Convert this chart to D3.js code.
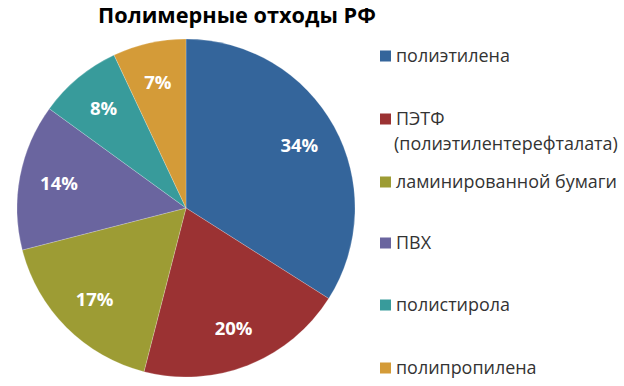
<!DOCTYPE html>
<html><head><meta charset="utf-8">
<script src="https://cdn.jsdelivr.net/npm/d3@7"></script>
<style>body{margin:0;background:#fff;}svg{display:block;}</style>
</head><body>
<script>
const categories = ["полиэтилена", "ПЭТФ (полиэтилентерефталата)", "ламинированной бумаги", "ПВХ", "полистирола", "полипропилена"];
const legendLines = [["полиэтилена"], ["ПЭТФ", "(полиэтилентерефталата)"], ["ламинированной бумаги"], ["ПВХ"], ["полистирола"], ["полипропилена"]];
const values = [34, 20, 17, 14, 8, 7];
const colors = ["#34659b", "#9b3233", "#9d9c34", "#6a659f", "#389b9b", "#d49b38"];
const title = "Полимерные отходы РФ";

const W = 624, H = 386;
const FONT = "'Open Sans', Lato, sans-serif";
const svg = d3.select("body").append("svg").attr("width", W).attr("height", H);
const titleEl = svg.append("text").attr("x", 237).attr("y", 23).attr("text-anchor", "middle")
  .attr("font-family", FONT).attr("font-weight", "bold")
  .attr("font-size", 20).attr("fill", "#000").text(title);
// fit title to reference width
const tw = titleEl.node().getComputedTextLength();
titleEl.attr("font-size", 20 * 278 / tw);

const cx = 186, cy = 208, R = 169;
const pie = d3.pie().sort(null).value(d => d);
const arcs = pie(values);
const arc = d3.arc().innerRadius(0).outerRadius(R);
const labelArc = d3.arc().innerRadius(R * 0.765).outerRadius(R * 0.765);
const g = svg.append("g").attr("transform", `translate(${cx},${cy})`);
g.selectAll("path").data(arcs).join("path")
  .attr("d", arc).attr("fill", (d, i) => colors[i])
  .attr("stroke", "#ffffff").attr("stroke-opacity", 0.35).attr("stroke-width", 0.6);
g.selectAll("text").data(arcs).join("text")
  .attr("transform", d => `translate(${labelArc.centroid(d)})`)
  .attr("text-anchor", "middle").attr("dy", "0.36em")
  .attr("font-family", FONT).attr("font-weight", "bold")
  .attr("font-size", 18.5).attr("fill", "#ffffff")
  .text(d => d.data + "%");

const legendY = [56, 119, 182, 243, 305, 368];
const lg = svg.append("g");
const texts = [];
legendLines.forEach((lines, i) => {
  lg.append("rect").attr("x", 380).attr("y", legendY[i] - 5.5).attr("width", 11).attr("height", 11).attr("fill", colors[i]);
  lines.forEach((t, j) => {
    texts.push(lg.append("text").attr("x", j === 0 ? 396 : 394).attr("y", legendY[i] + j * 25).attr("dy", "0.35em")
      .attr("font-family", FONT).attr("font-size", 15).attr("fill", "#333")
      .text(t));
  });
});
// fit legend font so the longest line matches the reference width
const longW = texts[2].node().getComputedTextLength();
const fs = 15 * 224 / longW;
texts.forEach(t => t.attr("font-size", fs));
</script>
</body></html>
